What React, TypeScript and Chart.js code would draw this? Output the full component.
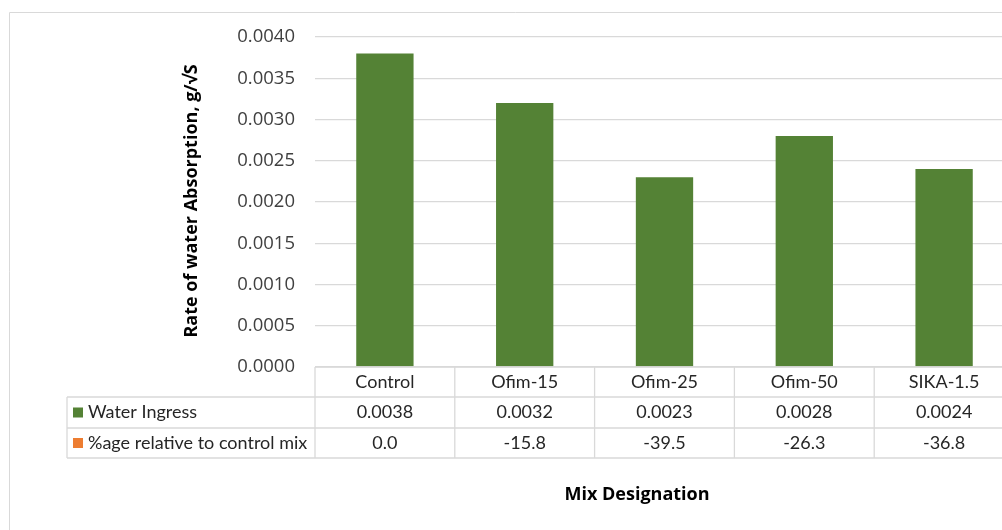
import React, { useEffect, useRef } from "react";
import { Chart, registerables } from "chart.js";

Chart.register(...registerables);

const mixes = ["Control", "Ofim-15", "Ofim-25", "Ofim-50", "SIKA-1.5"];
const waterIngress = [0.0038, 0.0032, 0.0023, 0.0028, 0.0024];
const relativeToControl = [0.0, -15.8, -39.5, -26.3, -36.8];
const seriesNames = ["Water Ingress", "%age relative to control mix"];
const seriesColors = ["#548235", "#ED7D31"];
const yTitle = "Rate of water Absorption, g/\u221AS";
const xTitle = "Mix Designation";

const tickFont = "'Open Sans', sans-serif";
const tableFont = "Lato, 'Open Sans', sans-serif";
const titleFont = "'Open Sans', sans-serif";

const GRID = "#d9d9d9";

// Draws the outer frame, the axis titles and the data table under the bars.
const tablePlugin = {
  id: "dataTable",
  afterDraw(chart: any) {
    const { ctx, chartArea, scales } = chart;
    const x = scales.x;
    const n = mixes.length;
    const half = (x.getPixelForValue(1) - x.getPixelForValue(0)) / 2;
    const top = chartArea.bottom;
    const rowH = [30, 31, 30];
    const r1 = top + rowH[0];
    const r2 = r1 + rowH[1];
    const r3 = r2 + rowH[2];
    const tableLeft = 67;
    const right = x.getPixelForValue(n - 1) + half;

    ctx.save();
    // outer frame
    ctx.strokeStyle = GRID;
    ctx.lineWidth = 1;
    ctx.beginPath();
    ctx.moveTo(9.5, 600);
    ctx.lineTo(9.5, 12.5);
    ctx.lineTo(1100, 12.5);
    ctx.stroke();

    // table grid
    ctx.strokeStyle = GRID;
    ctx.lineWidth = 1.3;
    ctx.beginPath();
    ctx.moveTo(chartArea.left, top);
    ctx.lineTo(right, top);
    [r1, r2, r3].forEach((yy) => {
      ctx.moveTo(tableLeft, yy);
      ctx.lineTo(right, yy);
    });
    ctx.moveTo(tableLeft, r1);
    ctx.lineTo(tableLeft, r3);
    for (let i = 0; i <= n; i++) {
      const xx = x.getPixelForValue(0) - half + i * 2 * half;
      ctx.moveTo(xx, top);
      ctx.lineTo(xx, r3);
    }
    ctx.stroke();

    // table text
    ctx.fillStyle = "#262626";
    ctx.font = `18px ${tableFont}`;
    ctx.textAlign = "center";
    ctx.textBaseline = "middle";
    mixes.forEach((m, i) => {
      const cx = x.getPixelForValue(i);
      ctx.fillText(m, cx, (top + r1) / 2);
      ctx.fillText(waterIngress[i].toFixed(4), cx, (r1 + r2) / 2);
      ctx.fillText(relativeToControl[i].toFixed(1), cx, (r2 + r3) / 2);
    });

    // legend keys in the row headers
    ctx.textAlign = "left";
    [(r1 + r2) / 2, (r2 + r3) / 2].forEach((cy, k) => {
      ctx.fillStyle = seriesColors[k];
      ctx.fillRect(73, cy - 5, 10, 10);
      ctx.fillStyle = "#262626";
      ctx.fillText(seriesNames[k], 88, cy);
    });

    // axis titles
    ctx.fillStyle = "#000000";
    ctx.font = `bold 18px ${titleFont}`;
    ctx.textAlign = "center";
    ctx.fillText(xTitle, 637, 495);
    ctx.translate(192, 201);
    ctx.rotate(-Math.PI / 2);
    ctx.fillText(yTitle, 0, 0);
    ctx.restore();
  },
};

export default function App() {
  const ref = useRef<HTMLCanvasElement>(null);

  useEffect(() => {
    if (!ref.current) return;
    const chart = new Chart(ref.current, {
      type: "bar",
      data: {
        labels: mixes,
        datasets: [
          {
            label: seriesNames[0],
            data: waterIngress,
            backgroundColor: seriesColors[0],
            borderWidth: 0,
            categoryPercentage: 1,
            barPercentage: 0.41,
          },
        ],
      },
      options: {
        responsive: false,
        animation: false,
        layout: { padding: { top: 37, left: 0, right: 6, bottom: 0 } },
        plugins: {
          legend: { display: false },
          tooltip: { enabled: false },
        },
        scales: {
          x: {
            grid: { display: false },
            border: { display: false },
            ticks: { display: false },
            afterFit(scale: any) {
              scale.height = 163;
            },
          },
          y: {
            min: 0,
            max: 0.004,
            ticks: {
              stepSize: 0.0005,
              padding: 20,
              color: "#404040",
              font: { family: tickFont, size: 18.5 },
              callback: (v: any) => Number(v).toFixed(4),
            },
            grid: { color: GRID, lineWidth: 1.3, drawTicks: false },
            border: { display: false },
            afterFit(scale: any) {
              scale.width = 315;
            },
          },
        },
      },
      plugins: [tablePlugin],
    });
    return () => chart.destroy();
  }, []);

  return (
    <div
      style={{
        position: "fixed",
        left: 0,
        top: 0,
        width: 1002,
        height: 530,
        overflow: "hidden",
        background: "#ffffff",
      }}
    >
      <canvas ref={ref} width={1020} height={530} />
    </div>
  );
}
